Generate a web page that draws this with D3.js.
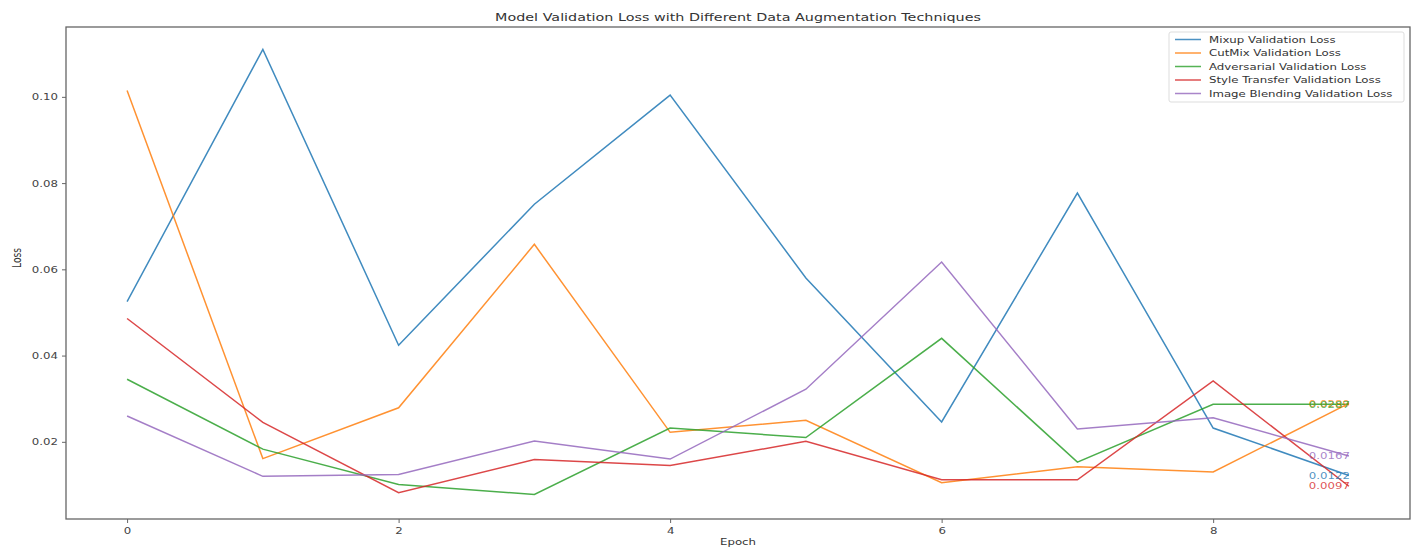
<!DOCTYPE html>
<html><head><meta charset="utf-8">
<script src="https://cdn.jsdelivr.net/npm/d3@7"></script>
<style>
body{margin:0;background:#fff;}
text{font-family:"DejaVu Sans",sans-serif;}
</style></head>
<body><svg id="c" width="1420" height="553"></svg>
<script>
const epochs = [0,1,2,3,4,5,6,7,8,9];
const seriesNames = ["Mixup Validation Loss","CutMix Validation Loss","Adversarial Validation Loss","Style Transfer Validation Loss","Image Blending Validation Loss"];
const mixup = [0.0525,0.1110,0.0424,0.0751,0.1004,0.0580,0.0246,0.0777,0.0232,0.0122];
const cutmix = [0.1015,0.0161,0.0279,0.0658,0.0222,0.0250,0.0105,0.0142,0.0130,0.0289];
const adversarial = [0.0345,0.0183,0.0101,0.0078,0.0232,0.0210,0.0440,0.0153,0.0287,0.0287];
const styleTransfer = [0.0486,0.0245,0.0082,0.0159,0.0145,0.0201,0.0112,0.0112,0.0341,0.0097];
const imageBlending = [0.0260,0.0120,0.0124,0.0202,0.0160,0.0322,0.0617,0.0230,0.0256,0.0167];
const xTicks = [0,2,4,6,8];
const yTicks = [0.02,0.04,0.06,0.08,0.10];
const colors = ["#1f77b4","#ff7f0e","#2ca02c","#d62728","#9467bd"];
const allSeries = [mixup,cutmix,adversarial,styleTransfer,imageBlending];

const SX=1.28, FS=9.2;
const L=66,R=1410,T=27,B=519;
const svg=d3.select("#c");
const x=d3.scaleLinear().domain([-0.45,9.45]).range([L,R]);
const y=d3.scaleLinear().domain([0.0021,0.1162]).range([B,T]);

function stext(g,px,py,str,opts){
  const t=g.append("text").attr("transform",`translate(${px},${py}) scale(${SX},1)`)
    .attr("font-size",opts.fs||FS).attr("fill",opts.fill||"#333")
    .attr("text-anchor",opts.anchor||"start").text(str);
  if(opts.dy) t.attr("dy",opts.dy);
  if(opts.op) t.attr("fill-opacity",opts.op);
  return t;
}

// lines
const line=d3.line().x((d,i)=>x(epochs[i])).y(d=>y(d));
allSeries.forEach((s,k)=>{
  svg.append("path").attr("d",line(s)).attr("fill","none")
    .attr("stroke",colors[k]).attr("stroke-width",1.5).attr("stroke-opacity",0.85);
});
// end labels
allSeries.forEach((s,k)=>{
  const v=s[s.length-1];
  stext(svg,x(epochs[epochs.length-1])+1,y(v),v.toFixed(4),{anchor:"end",fill:colors[k],dy:"0.35em",op:0.8});
});

// axes
const xa=svg.append("g").attr("transform",`translate(0,${B})`)
  .call(d3.axisBottom(x).tickValues(xTicks).tickFormat(d3.format("d")).tickSize(4).tickPadding(4));
const ya=svg.append("g").attr("transform",`translate(${L},0)`)
  .call(d3.axisLeft(y).tickValues(yTicks).tickFormat(d3.format(".2f")).tickSize(4).tickPadding(4));
[xa,ya].forEach(a=>{a.select(".domain").remove();
  a.selectAll("text").attr("font-size",FS).attr("fill","#444").style("font-family","DejaVu Sans")
    .each(function(){const el=d3.select(this);const xx=+el.attr("x")||0;
      el.attr("x",xx/SX).attr("transform",`scale(${SX},1)`);});
  a.selectAll("line").attr("stroke","#666");});

svg.append("rect").attr("x",L).attr("y",T).attr("width",R-L).attr("height",B-T)
  .attr("fill","none").attr("stroke","#666").attr("stroke-width",1.3);

// titles
stext(svg,(L+R)/2,21,"Model Validation Loss with Different Data Augmentation Techniques",{anchor:"middle",fs:11.2,fill:"#333"});
stext(svg,(L+R)/2,545,"Epoch",{anchor:"middle",fill:"#333"});
svg.append("text").attr("transform",`translate(21,258) rotate(-90) scale(1,${SX})`).attr("text-anchor","middle")
  .attr("font-size",FS).attr("fill","#333").text("Loss");

// legend
const lg=svg.append("g");
lg.append("rect").attr("x",1169).attr("y",32).attr("width",235).attr("height",70)
  .attr("fill","#fff").attr("fill-opacity",0.8).attr("stroke","#ddd").attr("rx",2);
seriesNames.forEach((n,k)=>{
  const yy=39.5+k*13.5;
  lg.append("line").attr("x1",1175).attr("x2",1201).attr("y1",yy).attr("y2",yy)
    .attr("stroke",colors[k]).attr("stroke-width",1.5).attr("stroke-opacity",0.8);
  stext(lg,1209,yy,n,{dy:"0.35em",fill:"#333"});
});
</script></body></html>
